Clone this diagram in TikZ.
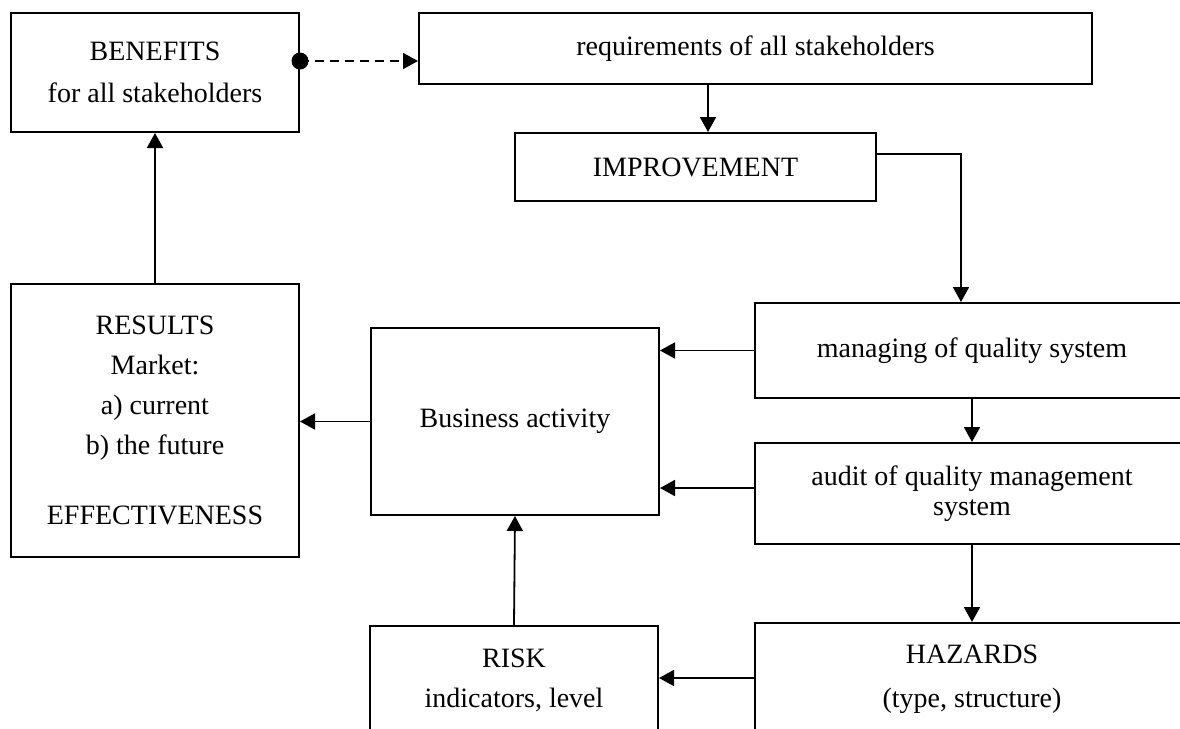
\documentclass[tikz,border=0pt]{standalone}
\usepackage{fontspec}
\setmainfont{Liberation Serif}
\usetikzlibrary{arrows.meta}

\begin{document}
\begin{tikzpicture}[x=0.5pt, y=-0.5pt,
  every node/.style={draw, rectangle, line width=1pt, inner sep=0pt, align=center, font=\fontsize{14pt}{21pt}\selectfont},
  link/.style={-{Triangle[length=7.5pt, width=8pt]}, line width=0.9pt}]
\useasboundingbox (0,0) rectangle (1180,729);
\clip (0,0) rectangle (1180,729);
\node (benefits) [minimum width=144pt, minimum height=59.5pt] at (155,72.5) {BENEFITS\\for all stakeholders};
\node (require) [minimum width=336.5pt, minimum height=35.5pt] at (755.5,48.5) {requirements of all stakeholders};
\node (improve) [minimum width=180.5pt, minimum height=34pt] at (695.5,167) {IMPROVEMENT};
\node (manage) [minimum width=217pt, minimum height=47.5pt] at (972,350.5) {managing of quality system};
\node (audit) [minimum width=217pt, minimum height=50.5pt, font=\fontsize{14pt}{15pt}\selectfont] at (972,493.5) {audit of quality management\\system};
\node (hazard) [minimum width=217pt, minimum height=56pt, font=\fontsize{14pt}{22pt}\selectfont] at (972,679) {HAZARDS\\(type, structure)};
\node (risk) [minimum width=144pt, minimum height=54.5pt, font=\fontsize{14pt}{20pt}\selectfont] at (514,680.5) {RISK\\indicators, level};
\node (business) [minimum width=144pt, minimum height=93.5pt] at (515,421.5) {Business activity};
\node (results) [minimum width=144pt, minimum height=136.5pt, font=\fontsize{14pt}{20pt}\selectfont] at (155,420.5) {RESULTS\\Market:\\a) current\\b) the future\\[15pt]EFFECTIVENESS};
\fill ([yshift=5.75pt]benefits.east) circle (4.25pt);
\draw[link, dash pattern=on 4.5pt off 3pt] ([yshift=5.75pt]benefits.east) -- ([yshift=5.75pt]benefits.east -| require.west);
\draw[link] ([xshift=6.25pt]improve.north |- require.south) -- ([xshift=6.25pt]improve.north);
\draw[link] ([yshift=6.5pt]improve.east) -| ([xshift=-5.5pt]manage.north);
\draw[link] (manage.west) -- (manage.west -| business.east);
\draw[link] (manage.south) -- (audit.north);
\draw[link] ([yshift=2.75pt]audit.west) -- ([yshift=2.75pt]audit.west -| business.east);
\draw[link] (audit.south) -- (hazard.north);
\draw[link] ([yshift=0.5pt]hazard.west) -- ([yshift=0.5pt]hazard.west -| risk.east);
\draw[link] (risk.north) -- (business.south);
\draw[link] (business.west) -- (business.west -| results.east);
\draw[link] (results.north) -- (benefits.south);
\end{tikzpicture}
\end{document}
